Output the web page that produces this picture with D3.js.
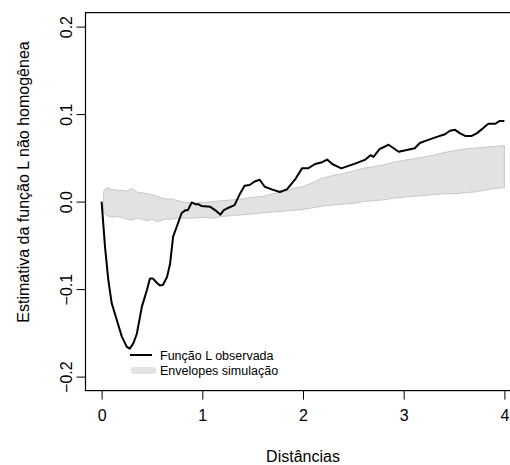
<!DOCTYPE html>
<meta charset="utf-8">
<style>
body { margin: 0; background: #fff; }
text { font-family: "Liberation Sans", Arial, sans-serif; fill: #000; }
.axis text { font-size: 16px; }
.axis path { display: none; }
.axis line { stroke: #000; stroke-width: 1; }
.legend text { font-size: 12.5px; }
</style>
<svg></svg>
<script src="https://cdn.jsdelivr.net/npm/d3@7"></script>
<script>
// observed L function (distance, value)
var obsDist = [0.00, 0.034, 0.067, 0.10, 0.15, 0.20, 0.25, 0.28, 0.315, 0.35, 0.40, 0.45, 0.48, 0.51, 0.55, 0.58, 0.61, 0.65, 0.68, 0.71,
  0.745, 0.795, 0.83, 0.855, 0.895, 0.93, 0.96, 0.99, 1.08, 1.13, 1.18, 1.21, 1.26, 1.32, 1.37, 1.42, 1.47, 1.52, 1.57, 1.62,
  1.69, 1.77, 1.84, 1.92, 1.99, 2.05, 2.12, 2.19, 2.24, 2.29, 2.38, 2.43, 2.53, 2.62, 2.67, 2.70, 2.76, 2.85, 2.90, 2.95,
  3.03, 3.11, 3.16, 3.23, 3.33, 3.41, 3.46, 3.51, 3.56, 3.61, 3.675, 3.725, 3.79, 3.84, 3.91, 3.95, 4.00];
var obsL = [0.000, -0.052, -0.090, -0.116, -0.135, -0.154, -0.166, -0.168, -0.162, -0.151, -0.120, -0.101, -0.088, -0.088, -0.093, -0.096, -0.095, -0.086, -0.071, -0.040,
  -0.029, -0.013, -0.010, -0.010, -0.001, -0.003, -0.003, -0.005, -0.006, -0.010, -0.015, -0.010, -0.007, -0.004, 0.008, 0.018, 0.019, 0.023, 0.025, 0.017,
  0.014, 0.011, 0.014, 0.025, 0.038, 0.038, 0.043, 0.045, 0.048, 0.043, 0.038, 0.040, 0.044, 0.048, 0.053, 0.051, 0.060, 0.065, 0.061, 0.057,
  0.059, 0.061, 0.067, 0.070, 0.074, 0.077, 0.081, 0.082, 0.078, 0.075, 0.075, 0.078, 0.084, 0.089, 0.089, 0.092, 0.092];

// simulation envelopes
var envDist = [0.02, 0.05, 0.1, 0.15, 0.2, 0.25, 0.3, 0.35, 0.4, 0.45, 0.5, 0.55, 0.6, 0.65, 0.7, 0.75, 0.8, 0.9, 1.0, 1.1,
  1.2, 1.3, 1.4, 1.5, 1.6, 1.7, 1.8, 1.9, 2.0, 2.1, 2.2, 2.3, 2.4, 2.5, 2.6, 2.7, 2.8, 2.9, 3.0, 3.1,
  3.2, 3.3, 3.4, 3.5, 3.6, 3.7, 3.8, 3.9, 4.0];
var envHi = [0.012, 0.016, 0.014, 0.013, 0.013, 0.012, 0.015, 0.011, 0.010, 0.009, 0.008, 0.006, 0.004, 0.003, 0.003, 0.001, 0.000, -0.002, -0.001, 0.000,
  0.001, 0.002, 0.003, 0.005, 0.006, 0.009, 0.011, 0.015, 0.017, 0.022, 0.027, 0.030, 0.032, 0.035, 0.038, 0.040, 0.042, 0.045, 0.047, 0.049,
  0.051, 0.053, 0.056, 0.058, 0.060, 0.061, 0.062, 0.063, 0.064];
var envLo = [-0.012, -0.016, -0.018, -0.017, -0.018, -0.020, -0.021, -0.019, -0.020, -0.022, -0.020, -0.023, -0.021, -0.020, -0.020, -0.019, -0.019, -0.019, -0.018, -0.019,
  -0.017, -0.016, -0.015, -0.014, -0.013, -0.012, -0.011, -0.010, -0.009, -0.007, -0.005, -0.004, -0.003, -0.002, 0.000, 0.001, 0.002, 0.004, 0.005, 0.006,
  0.007, 0.008, 0.009, 0.009, 0.010, 0.011, 0.013, 0.015, 0.016];

var xTicks = [0, 1, 2, 3, 4];
var yTicks = [-0.2, -0.1, 0.0, 0.1, 0.2];
var legendLabels = ["Função L observada", "Envelopes simulação"];

var width = 510, height = 465;
var svg = d3.select("svg").attr("width", width).attr("height", height);

var x = d3.scaleLinear().domain([-0.16, 4.16]).range([85.5, 520.5]),
    y = d3.scaleLinear().domain([-0.216, 0.216]).range([390.6, 12.6]);

var env = envDist.map(function(d, i) { return {d: d, lo: envLo[i], hi: envHi[i]}; });
var obs = obsDist.map(function(d, i) { return {d: d, v: obsL[i]}; });

svg.append("path")
    .datum(env)
    .attr("fill", "#e2e2e2")
    .attr("stroke", "#c8c8c8")
    .attr("stroke-width", 1)
    .attr("d", d3.area()
      .x(function(d) { return x(d.d); })
      .y0(function(d) { return y(d.lo); })
      .y1(function(d) { return y(d.hi); }));

svg.append("path")
    .datum(obs)
    .attr("fill", "none")
    .attr("stroke", "#000")
    .attr("stroke-width", 2)
    .attr("stroke-linejoin", "round")
    .attr("d", d3.line()
      .x(function(d) { return x(d.d); })
      .y(function(d) { return y(d.v); }));

// box
svg.append("rect")
    .attr("x", x.range()[0]).attr("y", y.range()[1])
    .attr("width", x.range()[1] - x.range()[0])
    .attr("height", y.range()[0] - y.range()[1])
    .attr("fill", "none").attr("stroke", "#000").attr("stroke-width", 1.2);

var gx = svg.append("g")
    .attr("class", "axis")
    .attr("transform", "translate(0," + y.range()[0] + ")")
    .call(d3.axisBottom(x).tickValues(xTicks).tickSize(9).tickPadding(10).tickFormat(d3.format("d")));
gx.selectAll("text").attr("dy", "0.71em");

var gy = svg.append("g")
    .attr("class", "axis")
    .attr("transform", "translate(" + x.range()[0] + ",0)")
    .call(d3.axisLeft(y).tickValues(yTicks).tickSize(9).tickFormat(d3.format(".1f")));
gy.selectAll("text")
    .attr("x", null).attr("dy", null)
    .attr("text-anchor", "middle")
    .attr("transform", "translate(-14,0) rotate(-90)");

svg.append("text")
    .attr("x", x(2)).attr("y", 462)
    .attr("text-anchor", "middle")
    .style("font-size", "16px")
    .text("Distâncias");

svg.append("text")
    .attr("transform", "translate(29,182) rotate(-90)")
    .attr("text-anchor", "middle")
    .style("font-size", "16px")
    .text("Estimativa da função L não homogênea");

// legend
var lg = svg.append("g").attr("class", "legend");
lg.append("line")
    .attr("x1", 130).attr("x2", 152).attr("y1", 355).attr("y2", 355)
    .attr("stroke", "#000").attr("stroke-width", 2);
lg.append("line")
    .attr("x1", 134).attr("x2", 153).attr("y1", 370.5).attr("y2", 370.5)
    .attr("stroke", "#e2e2e2").attr("stroke-width", 7).attr("stroke-linecap", "round");
lg.selectAll("text.lab")
    .data(legendLabels)
    .enter().append("text")
    .attr("class", "lab")
    .attr("x", 160)
    .attr("y", function(d, i) { return 359.5 + i * 15.5; })
    .text(function(d) { return d; });
</script>
